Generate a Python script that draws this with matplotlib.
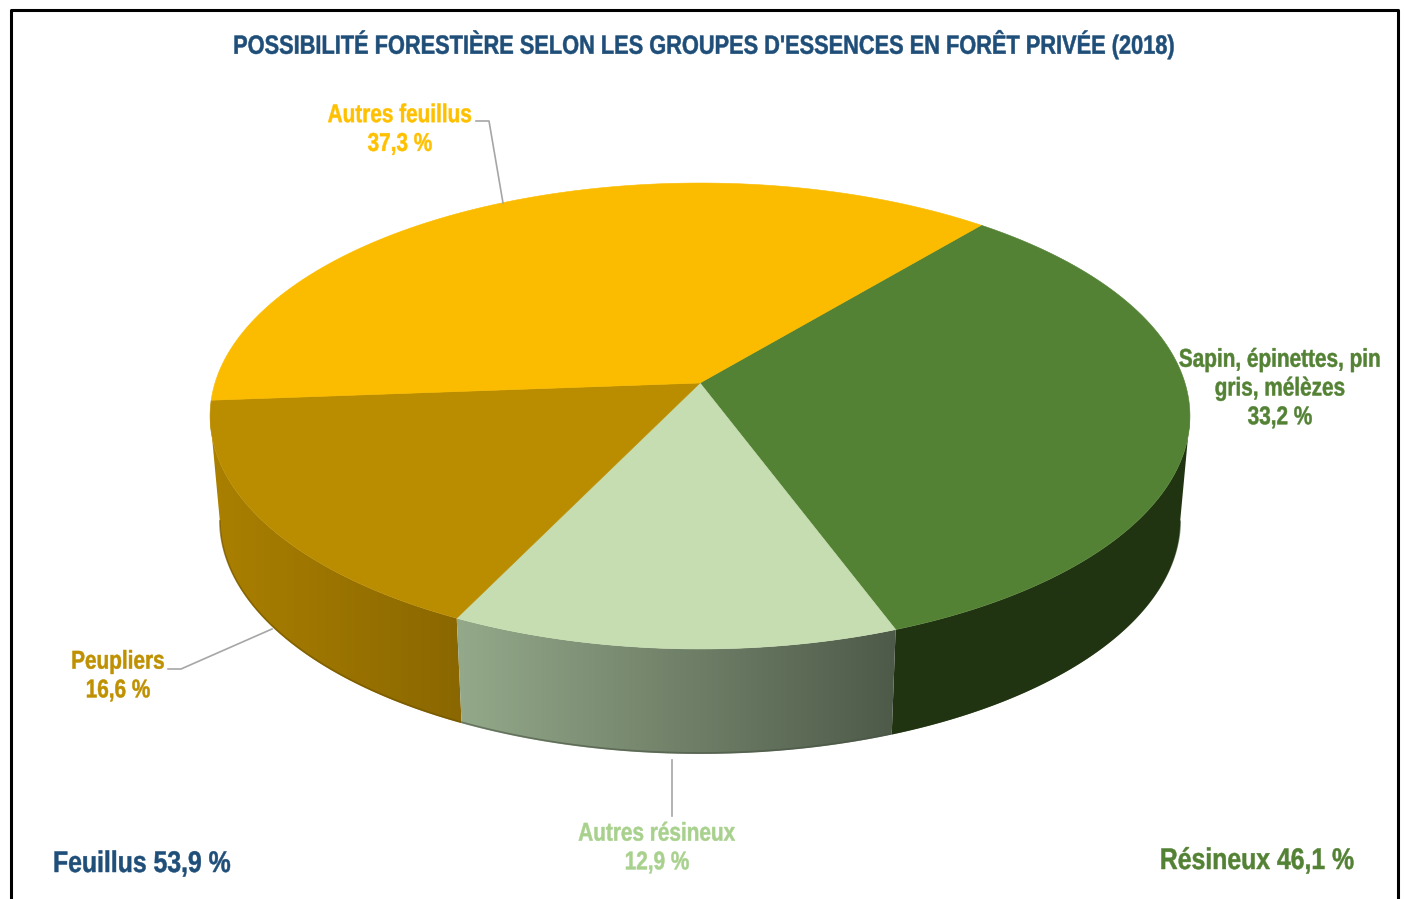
#!/usr/bin/env python3

import numpy as np
import matplotlib

matplotlib.use("Agg")
import matplotlib.pyplot as plt
from matplotlib.colors import to_rgb
from matplotlib.patches import Polygon
from matplotlib.patheffects import AbstractPathEffect
from matplotlib.transforms import Affine2D

plt.rcParams["font.family"] = ["Liberation Sans"]
plt.rcParams["font.weight"] = "bold"

# ...Chart values, clockwise from the start angle
groups = ["Sapin, épinettes, pin\ngris, mélèzes", "Autres résineux", "Peupliers", "Autres feuillus"]
shares = [33.2, 12.9, 16.6, 37.3]
totals = ["Feuillus 53,9 %", "Résineux 46,1 %"]
title = "POSSIBILITÉ FORESTIÈRE SELON LES GROUPES D'ESSENCES EN FORÊT PRIVÉE (2018)"

top_colors = ["#548235", "#C5DDB0", "#BA8C00", "#FBBC00"]
text_colors = ["#548235", "#A9D18E", "#BF9000", "#FFC000"]
side_left = ["#213412", "#94A98A", "#AB8000", "#AB8000"]
side_right = ["#213412", "#4E5A49", "#8A6700", "#AB8000"]
rim_colors = ["#213412", "#4A5545", "#6E5200", "#AB8000"]

# ...Perspective model of the pie disc
START_ANGLE = 50.0
CENTER_X, CENTER_Y = 700.0, 383.0
RADIUS_X, RADIUS_Y = 485.0, 228.3
PERSPECTIVE = 0.1416
DEPTH = 105.0
BASE_SCALE = 0.98


class Condensed(AbstractPathEffect):
    """
    Squeeze a text horizontally around its anchor, in place of a narrow font
    """

    def __init__(self, factor, anchor_x):
        super().__init__()
        self.squeeze = Affine2D().translate(-anchor_x, 0).scale(factor, 1).translate(anchor_x, 0)

    def draw_path(self, renderer, gc, tpath, affine, rgbFace=None):
        gc0 = renderer.new_gc()
        gc0.copy_properties(gc)
        gc0.set_linewidth(0.35)
        gc0.set_foreground(rgbFace)
        renderer.draw_path(gc0, tpath, affine + self.squeeze, rgbFace)
        gc0.restore()


def project(theta, base=False):
    """
    Map pie angles in degrees to image pixels, on the top or the base of the disc
    """
    u = np.cos(np.radians(theta))
    v = np.sin(np.radians(theta))
    s = 1.0 / (1.0 + PERSPECTIVE * v)
    x = RADIUS_X * u * s
    y = CENTER_Y - RADIUS_Y * v * s
    if base:
        return CENTER_X + x * BASE_SCALE, y + DEPTH
    return CENTER_X + x, y


def draw_side(ax, theta, left, right, rim):
    x_top, y_top = project(theta)
    x_base, y_base = project(theta, base=True)
    xs = np.concatenate([x_top, x_base[::-1]])
    ys = np.concatenate([y_top, y_base[::-1]])
    patch = Polygon(np.column_stack([xs, ys]), closed=True, fc="none", ec="none")
    ax.add_patch(patch)

    ramp = np.linspace(to_rgb(left), to_rgb(right), 256).reshape(1, 256, 3)
    image = ax.imshow(
        ramp,
        extent=(xs.min(), xs.max(), ys.max(), ys.min()),
        aspect="auto",
        interpolation="bilinear",
        zorder=1,
    )
    image.set_clip_path(patch)
    ax.plot(x_base, y_base - 1.0, color=rim, lw=1.2, alpha=0.6, zorder=1.5, solid_capstyle="butt")


def put_text(ax, x, y, string, color, size, factor, **kwargs):
    ax.text(
        x, y, string, color=color, fontsize=size, ha="center", va="center",
        path_effects=[Condensed(factor, x)], **kwargs,
    )


def main():
    fig = plt.figure(figsize=(14.05, 8.99), dpi=100)
    ax = fig.add_axes([0, 0, 1, 1])

    # ...Slice limits come from the shares
    edges = START_ANGLE - np.cumsum([0.0] + shares) * 3.6

    # ...Sides first, only the part in front of the widest points of the disc shows
    for i in [0, 2, 1]:
        theta = np.linspace(edges[i], edges[i + 1], 200)
        theta = theta[np.sin(np.radians(theta)) < -PERSPECTIVE]
        draw_side(ax, theta, side_left[i], side_right[i], rim_colors[i])

    # ...Then the top of the disc
    for i in range(len(shares)):
        theta = np.linspace(edges[i], edges[i + 1], 300)
        x, y = project(theta)
        points = np.column_stack(
            [np.concatenate([[CENTER_X], x]), np.concatenate([[CENTER_Y], y])]
        )
        ax.add_patch(
            Polygon(points, closed=True, fc=top_colors[i], ec=top_colors[i], lw=0.4, zorder=2)
        )

    # ...Leader lines
    leader = dict(color="#A6A6A6", lw=1.2, zorder=3)
    ax.plot([476, 489, 503], [121, 121, 203], **leader)
    ax.plot([168, 181, 272], [669, 669, 629], **leader)
    ax.plot([672, 672], [760, 816], **leader)

    # ...Text
    put_text(ax, 704, 44.5, title, "#1F4E79", 19.0, 0.825)
    label_pos = [(1280, 388.5), (657, 848), (118, 676), (400, 129.5)]
    for name, share, color, pos in zip(groups, shares, text_colors, label_pos):
        label = "{:s}\n{:.1f} %".format(name, share).replace(".", ",")
        put_text(ax, pos[0], pos[1], label, color, 18.5, 0.808, linespacing=1.25)
    put_text(ax, 142, 864, totals[0], "#1F4E79", 21.5, 0.83)
    put_text(ax, 1257, 861, totals[1], "#548235", 21.5, 0.83)

    # ...Frame, cut by the bottom of the image
    ax.plot([11, 11, 1397.5, 1397.5], [905, 10, 10, 905], color="black", lw=2.2, zorder=4)

    ax.set_xlim(0, 1405)
    ax.set_ylim(899, 0)
    ax.axis("off")
    fig.savefig("out.png", dpi=100, facecolor="white")


if __name__ == "__main__":
    main()
